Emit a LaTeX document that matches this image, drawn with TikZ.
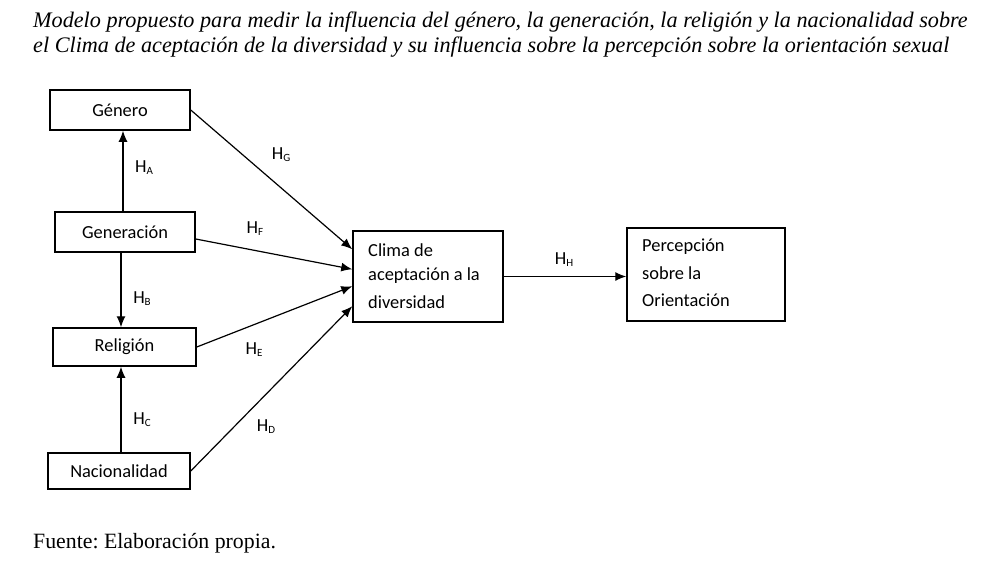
\documentclass[tikz,border=0pt]{standalone}
\usepackage{fontspec}
\setmainfont{Liberation Serif}
\newfontfamily\boxfont{Carlito}
\usetikzlibrary{arrows.meta}
\frenchspacing
\tikzset{
  box/.style={draw, line width=1.5pt, rectangle, inner sep=0pt, font=\boxfont\fontsize{18.4}{22}\selectfont},
  conn/.style={line width=1.2pt, -{Latex[length=11pt,width=9pt]}},
  hlab/.style={font=\boxfont\fontsize{18.4}{22}\selectfont, inner sep=0pt},
}
\newcommand{\hs}[1]{H\raisebox{-2pt}{\fontsize{11}{13}\selectfont #1}}
\begin{document}
\begin{tikzpicture}[x=1pt,y=-1pt]
\useasboundingbox (0,0) rectangle (1004,562);
% title
\node[anchor=west, inner sep=0pt, font=\itshape\fontsize{22.2}{25}\selectfont] (t1) at (33,22) {Modelo propuesto para medir la influencia del género, la generación, la religión y la nacionalidad sobre};
\node[anchor=west, inner sep=0pt, font=\itshape\fontsize{22.2}{25}\selectfont] (t2) at (33,47) {el Clima de aceptación de la diversidad y su influencia sobre la percepción sobre la orientación sexual};
\node[anchor=west, inner sep=0pt, font=\fontsize{21.8}{25}\selectfont] (src) at (33,543) {Fuente: Elaboración propia.};
% boxes
\node[box, minimum width=140pt, minimum height=40pt] (gen) at (120,110) {Género};
\node[box, minimum width=140pt, minimum height=40pt] (gnr) at (125,232) {Generación};
\node[box, minimum width=143pt, minimum height=38pt] (rel) at (124.5,347) {Religión};
\node[box, minimum width=142pt, minimum height=36pt] (nac) at (119,471) {Nacionalidad};
\node[box, minimum width=150pt, minimum height=91pt] (cli) at (428,276.5) {};
\node[box, minimum width=158pt, minimum height=93pt] (per) at (706,274.5) {};
% box texts
\node[hlab, anchor=west] (c1) at (368,250) {Clima de};
\node[hlab, anchor=west] (c2) at (368,276) {aceptación a la};
\node[hlab, anchor=west] (c3) at (368,302) {diversidad};
\node[hlab, anchor=west] (p1) at (642,247) {Percepción};
\node[hlab, anchor=west] (p2) at (642,273) {sobre la};
\node[hlab, anchor=west] (p3) at (642,300) {Orientación};
% end coordinates on Clima
\coordinate (e1) at ([yshift=-19pt]cli.north west);
\coordinate (e2) at ([yshift=-39pt]cli.north west);
\coordinate (e3) at ([yshift=-56pt]cli.north west);
\coordinate (e4) at ([yshift=-76pt]cli.north west);
\coordinate (s2) at ([yshift=-7pt]gnr.east);
% connectors
\draw[conn] ([xshift=-2pt]gnr.north) -- ([xshift=3pt]gen.south);
\draw[conn] ([xshift=-4pt]gnr.south) -- ([xshift=-3.5pt]rel.north);
\draw[conn] ([xshift=2pt]nac.north) -- ([xshift=-3.5pt]rel.south);
\draw[conn] (gen.east) -- (e1);
\draw[conn] (s2) -- (e2);
\draw[conn] (rel.east) -- (e3);
\draw[conn] (nac.east) -- (e4);
\draw[conn] (cli.east) -- (per.west |- cli.east);
% labels
\node[hlab] (lg) at (281,155) {\hs{G}};
\node[hlab] (la) at (144,168) {\hs{A}};
\node[hlab] (lf) at (255,229) {\hs{F}};
\node[hlab] (lb) at (142,299) {\hs{B}};
\node[hlab] (le) at (254,350) {\hs{E}};
\node[hlab] (lc) at (142,420) {\hs{C}};
\node[hlab] (ld) at (266,427) {\hs{D}};
\node[hlab] (lh) at (564,260) {\hs{H}};
\end{tikzpicture}
\end{document}
